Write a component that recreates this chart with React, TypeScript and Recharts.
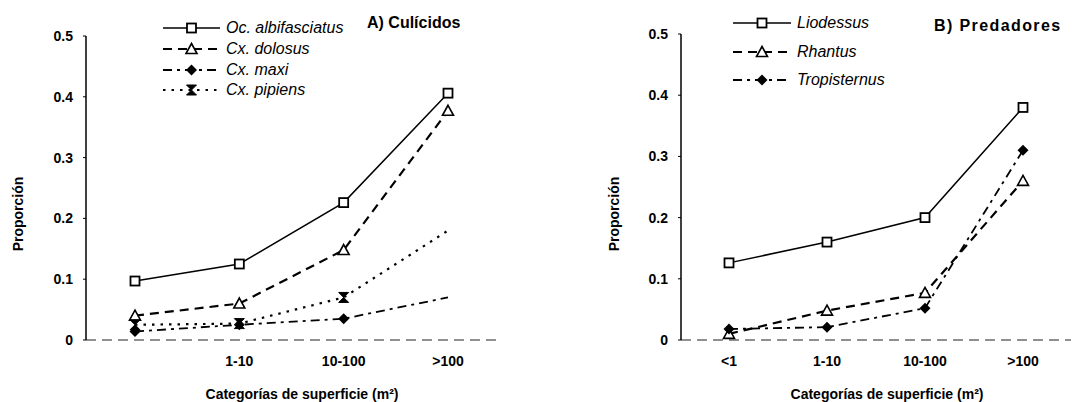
import React from "react";
import { Legend, Line, LineChart, XAxis, YAxis } from "recharts";

const categories = ["<1", "1-10", "10-100", ">100"];
const tickLabelsA = ["", "1-10", "10-100", ">100"];
const tickLabelsB = ["<1", "1-10", "10-100", ">100"];
const yTicks = [0, 0.1, 0.2, 0.3, 0.4, 0.5];

const albifasciatus = [0.097, 0.125, 0.226, 0.406];
const dolosus = [0.04, 0.06, 0.148, 0.377];
const maxi = [0.014, 0.025, 0.035, 0.07];
const pipiens = [0.025, 0.027, 0.07, 0.18];

const liodessus = [0.126, 0.16, 0.2, 0.38];
const rhantus = [0.01, 0.048, 0.077, 0.26];
const tropisternus = [0.018, 0.021, 0.052, 0.31];

const font = "'Liberation Sans', Arial, sans-serif";

type Marker = "square" | "triangle" | "diamond" | "bowtie";
type Series = { key: string; name: string; values: number[]; marker: Marker; dash?: string; width: number; hideLast?: boolean };

const seriesA: Series[] = [
  { key: "alb", name: "Oc. albifasciatus", values: albifasciatus, marker: "square", width: 1.5 },
  { key: "dol", name: "Cx. dolosus", values: dolosus, marker: "triangle", dash: "9 6", width: 2.2 },
  { key: "max", name: "Cx. maxi", values: maxi, marker: "diamond", dash: "9 5 3 5", width: 1.8, hideLast: true },
  { key: "pip", name: "Cx. pipiens", values: pipiens, marker: "bowtie", dash: "2.5 6", width: 2.2, hideLast: true },
];

const seriesB: Series[] = [
  { key: "lio", name: "Liodessus", values: liodessus, marker: "square", width: 1.5 },
  { key: "rha", name: "Rhantus", values: rhantus, marker: "triangle", dash: "9 6", width: 2.2 },
  { key: "tro", name: "Tropisternus", values: tropisternus, marker: "diamond", dash: "9 5 3 5", width: 1.8 },
];

function drawMarker(kind: Marker, cx: number, cy: number, key?: string) {
  if (kind === "square")
    return <rect key={key} x={cx - 4.5} y={cy - 4.5} width={9} height={9} fill="#fff" stroke="#000" strokeWidth={1.8} />;
  if (kind === "triangle")
    return <path key={key} d={`M${cx},${cy - 5.5} L${cx + 5.5},${cy + 4.5} L${cx - 5.5},${cy + 4.5} Z`} fill="#fff" stroke="#000" strokeWidth={1.6} />;
  if (kind === "diamond")
    return <path key={key} d={`M${cx},${cy - 5.5} L${cx + 5.5},${cy} L${cx},${cy + 5.5} L${cx - 5.5},${cy} Z`} fill="#000" />;
  return <path key={key} d={`M${cx - 5},${cy - 5} L${cx + 5},${cy - 5} L${cx - 5},${cy + 5} L${cx + 5},${cy + 5} Z`} fill="#000" stroke="#000" strokeWidth={1} />;
}

function buildRows(series: Series[]) {
  return categories.map((cat, i) => {
    const row: Record<string, number | string> = { cat };
    series.forEach((s) => (row[s.key] = s.values[i]));
    return row;
  });
}

function SvgText({ px, py, text, rot = 0 }: any) {
  return (
    <text
      x={px}
      y={py}
      textAnchor="middle"
      dominantBaseline="central"
      transform={rot ? `rotate(${rot} ${px} ${py})` : undefined}
      fontFamily={font}
      fontSize={14}
      fontWeight="bold"
      fill="#000"
    >
      {text}
    </text>
  );
}

function LegendBox({ series, rowH, lineW, textGap }: { series: Series[]; rowH: number; lineW: number; textGap: number }) {
  return (
    <div style={{ fontFamily: font }}>
      {series.map((s) => (
        <div key={s.key} style={{ display: "flex", alignItems: "center", height: rowH }}>
          <svg width={lineW} height={14} style={{ overflow: "visible" }}>
            <line x1={0} y1={7} x2={lineW} y2={7} stroke="#000" strokeWidth={s.width} strokeDasharray={s.dash} />
            {drawMarker(s.marker, lineW / 2, 7)}
          </svg>
          <span style={{ marginLeft: textGap, fontSize: 16, fontStyle: "italic", color: "#000" }}>{s.name}</span>
        </div>
      ))}
    </div>
  );
}

type PanelProps = {
  series: Series[];
  tickLabels: string[];
  margin: { top: number; right: number; left: number; bottom: number };
  padX: number;
  legendPos: { left: number; top: number };
  legendRowH: number;
  legendLineW: number;
  xTitleX: number;
  yTitleX: number;
};

function Panel({ series, tickLabels, margin, padX, legendPos, legendRowH, legendLineW, xTitleX, yTitleX }: PanelProps) {
  const rows = buildRows(series);
  return (
    <LineChart width={545} height={402} data={rows} margin={margin}>
      <XAxis
        dataKey="cat"
        scale="point"
        padding={{ left: padX, right: padX }}
        height={30}
        tickLine={false}
        tickSize={0}
        tickMargin={16}
        interval={0}
        axisLine={{ stroke: "#222", strokeDasharray: "10 6", strokeWidth: 1 }}
        tickFormatter={(_v: string, i: number) => tickLabels[i]}
        tick={{ fill: "#000", fontSize: 14, fontWeight: "bold", fontFamily: font }}
        label={<SvgText px={xTitleX} py={394} text="Categorías de superficie (m²)" />}
      />
      <YAxis
        width={40}
        domain={[0, 0.5]}
        ticks={yTicks}
        tickSize={3}
        tickMargin={10}
        tickLine={{ stroke: "#000" }}
        axisLine={{ stroke: "#000", strokeWidth: 1.5 }}
        tickFormatter={(v: number) => (v === 0 ? "0" : v.toFixed(1))}
        tick={{ fill: "#000", fontSize: 14, fontWeight: "bold", fontFamily: font }}
        label={<SvgText px={yTitleX} py={214} rot={-90} text="Proporción" />}
      />
      <Legend
        verticalAlign="middle"
        align="center"
        layout="horizontal"
        wrapperStyle={{ position: "absolute", left: legendPos.left, top: legendPos.top, width: 260 }}
        content={() => <LegendBox series={series} rowH={legendRowH} lineW={legendLineW} textGap={6} />}
      />
      {series.map((s) => (
        <Line
          key={s.key}
          dataKey={s.key}
          name={s.name}
          stroke="#000"
          strokeWidth={s.width}
          strokeDasharray={s.dash}
          isAnimationActive={false}
          dot={(p: any) =>
            s.hideLast && p.index === categories.length - 1 ? (
              <g key={`${s.key}-${p.index}`} />
            ) : (
              drawMarker(s.marker, p.cx, p.cy, `${s.key}-${p.index}`)
            )
          }
          activeDot={false}
        />
      ))}
    </LineChart>
  );
}

export default function App() {
  return (
    <div style={{ position: "absolute", left: 0, top: 0, width: 1091, height: 402, background: "#fff", fontFamily: font }}>
      <div style={{ position: "absolute", left: 0, top: 0, width: 545, height: 402 }}>
        <Panel
          series={seriesA}
          tickLabels={tickLabelsA}
          margin={{ top: 36, right: 48, left: 46, bottom: 32 }}
          padX={49}
          legendPos={{ left: 163, top: 18 }}
          legendRowH={20.7}
          legendLineW={57}
          xTitleX={302}
          yTitleX={18}
        />
        <div style={{ position: "absolute", left: 367, top: 14, fontSize: 16, fontWeight: "bold" }}>A) Culícidos</div>
      </div>
      <div style={{ position: "absolute", left: 546, top: 0, width: 545, height: 402 }}>
        <Panel
          series={seriesB}
          tickLabels={tickLabelsB}
          margin={{ top: 34, right: 20, left: 95, bottom: 32 }}
          padX={48}
          legendPos={{ left: 187, top: 9 }}
          legendRowH={28.5}
          legendLineW={58}
          xTitleX={341}
          yTitleX={68}
        />
        <div style={{ position: "absolute", left: 388, top: 17, fontSize: 16, fontWeight: "bold", letterSpacing: 1.4 }}>
          B) Predadores
        </div>
      </div>
    </div>
  );
}
